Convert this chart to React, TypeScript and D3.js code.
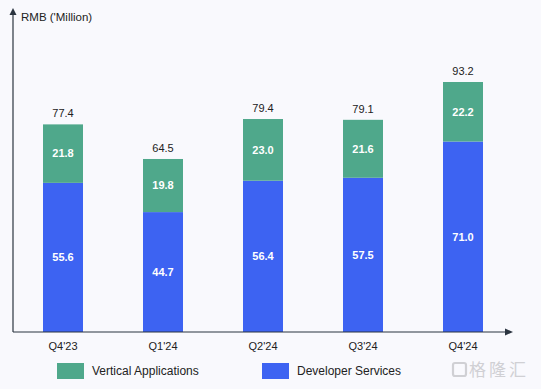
import React from "react";
import * as d3 from "d3";

const quarters = ["Q4'23", "Q1'24", "Q2'24", "Q3'24", "Q4'24"];
const developerServices = [55.6, 44.7, 56.4, 57.5, 71.0];
const verticalApplications = [21.8, 19.8, 23.0, 21.6, 22.2];
const totals = [77.4, 64.5, 79.4, 79.1, 93.2];
const seriesNames = ["Vertical Applications", "Developer Services"];

const W = 541;
const H = 389;
const GREEN = "#4fa88b";
const BLUE = "#3d63f2";
const FONT = "Helvetica, Arial, 'Liberation Sans', sans-serif";

export default function App() {
  const axisX = 13;
  const axisY = 332;

  // band scale for the quarter positions
  const x = d3
    .scaleBand()
    .domain(quarters)
    .range([13, 513])
    .paddingInner(0.6)
    .paddingOuter(0.3);

  const y = d3.scaleLinear().domain([0, 93.2]).range([axisY, 82]);

  const rows = quarters.map((q, i) => ({
    q,
    dev: developerServices[i],
    vert: verticalApplications[i],
    total: totals[i],
  }));

  const stack = d3.stack<any>().keys(["dev", "vert"])(rows);
  const fmt = d3.format(".1f");

  return (
    <svg
      width={W}
      height={H}
      style={{ position: "absolute", left: 0, top: 0, background: "#f9f9fd" }}
      fontFamily={FONT}
    >
      <rect width={W} height={H} fill="#f9f9fd" />

      {/* axes */}
      <line x1={axisX} y1={axisY} x2={axisX} y2={13} stroke="#2b3440" strokeWidth={1.2} />
      <path d={`M${axisX - 3.5},${15} L${axisX},${8} L${axisX + 3.5},${15} Z`} fill="#2b3440" />
      <text x={21} y={21} fontSize={11.5} fill="#222">RMB ('Million)</text>

      {/* bars */}
      {stack.map((layer) =>
        layer.map((d, i) => (
          <rect
            key={layer.key + i}
            x={x(quarters[i])}
            y={y(d[1])}
            width={x.bandwidth()}
            height={y(d[0]) - y(d[1])}
            fill={layer.key === "dev" ? BLUE : GREEN}
          />
        ))
      )}

      {/* segment labels */}
      {stack.map((layer) =>
        layer.map((d, i) => (
          <text
            key={"l" + layer.key + i}
            x={(x(quarters[i]) as number) + x.bandwidth() / 2}
            y={(y(d[0]) + y(d[1])) / 2}
            dy="0.35em"
            textAnchor="middle"
            fontSize={11}
            fontWeight="bold"
            fill="#fff"
          >
            {fmt((d as any).data[layer.key])}
          </text>
        ))
      )}

      {/* totals */}
      {rows.map((r) => (
        <text
          key={"t" + r.q}
          x={(x(r.q) as number) + x.bandwidth() / 2}
          y={y(r.total) - 11}
          dy="0.35em"
          textAnchor="middle"
          fontSize={11}
          fill="#222"
        >
          {fmt(r.total)}
        </text>
      ))}

      <line x1={axisX} y1={axisY} x2={507} y2={axisY} stroke="#2b3440" strokeWidth={1.2} />
      <path d={`M${505},${axisY - 3.5} L${513},${axisY} L${505},${axisY + 3.5} Z`} fill="#2b3440" />

      {/* x tick labels */}
      {quarters.map((q) => (
        <text
          key={"x" + q}
          x={(x(q) as number) + x.bandwidth() / 2}
          y={346}
          dy="0.35em"
          textAnchor="middle"
          fontSize={11}
          fill="#222"
        >
          {q}
        </text>
      ))}

      {/* legend */}
      {seriesNames.map((name, i) => (
        <g key={name} transform={`translate(${i === 0 ? 57 : 262},363)`}>
          <rect width={27} height={16} fill={i === 0 ? GREEN : BLUE} />
          <text x={35} y={8} dy="0.35em" fontSize={12} fill="#222">{name}</text>
        </g>
      ))}

      {/* watermark */}
      <g>
        <rect x={453} y={363} width={13} height={13} rx={2} fill="none" stroke="#d0d0d4" strokeWidth={2.2} />
        <text x={469} y={370} dy="0.35em" fontSize={17} letterSpacing={3} fill="#d0d0d4" fontFamily="'Noto Sans CJK SC', sans-serif">格隆汇</text>
      </g>
    </svg>
  );
}
